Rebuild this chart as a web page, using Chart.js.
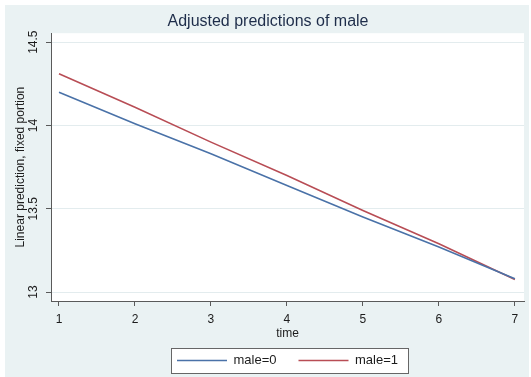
<!DOCTYPE html>
<html>
<head>
<meta charset="utf-8">
<script src="https://cdn.jsdelivr.net/npm/chart.js@4/dist/chart.umd.min.js"></script>
<style>
  html, body { margin: 0; padding: 0; background: #fff; }
  #wrap { width: 531px; height: 377px; }
</style>
</head>
<body>
<div id="wrap"><canvas id="c" width="531" height="377"></canvas></div>
<script>
// === DATA ===
const TIMES  = [1, 2, 3, 4, 5, 6, 7];
const MALE0  = [14.20, 14.01, 13.83, 13.64, 13.45, 13.27, 13.08];
const MALE1  = [14.31, 14.11, 13.90, 13.70, 13.49, 13.29, 13.075];
const Y_TICKS = [13, 13.5, 14, 14.5];
const X_TICKS = [1, 2, 3, 4, 5, 6, 7];
const SERIES_NAMES = ['male=0', 'male=1'];

// === STYLE ===
const BG    = '#eaf2f3';
const INK   = '#1c1c1c';
const TITLE = '#1e2d4a';
const AXIS  = '#5a5a5a';
const GRID  = '#e3ecee';
const BLUE  = '#4a72a8';
const RED   = '#b84d55';
const FONT  = '"Liberation Sans", Arial, sans-serif';

// фон в стиле Stata: светлая рамка + белая область графика + рамка легенды
const backdrop = {
  id: 'backdrop',
  beforeDraw(chart){
    const { ctx, chartArea: a, width, height } = chart;
    ctx.save();
    ctx.fillStyle = '#fff';
    ctx.fillRect(0, 0, width, height);
    ctx.fillStyle = BG;
    ctx.fillRect(5, 5, width - 7, height - 5);
    ctx.fillStyle = '#fff';
    ctx.fillRect(a.left, a.top, a.right - a.left, a.bottom - a.top);

    const boxes = chart.legend && chart.legend.legendHitBoxes;
    if (boxes && boxes.length){
      const l = boxes[0].left - 6;
      const r = boxes[boxes.length - 1].left + boxes[boxes.length - 1].width + 10;
      const cy = boxes[0].top + boxes[0].height / 2;
      ctx.fillStyle = '#fff';
      ctx.fillRect(l, cy - 12.5, r - l, 25);
      ctx.strokeStyle = '#666';
      ctx.lineWidth = 1;
      ctx.strokeRect(Math.round(l) + 0.5, Math.round(cy - 12.5) + 0.5, Math.round(r - l), 25);
    }
    ctx.restore();
  }
};

function mkLine(label, data, color){
  return {
    label,
    data: TIMES.map((t, i) => ({ x: t, y: data[i] })),
    borderColor: color,
    backgroundColor: color,
    borderWidth: 1.6,
    pointRadius: 0,
    tension: 0
  };
}

new Chart(document.getElementById('c').getContext('2d'), {
  type: 'line',
  data: {
    datasets: [
      mkLine(SERIES_NAMES[0], MALE0, BLUE),
      mkLine(SERIES_NAMES[1], MALE1, RED)
    ]
  },
  options: {
    responsive: false,
    animation: false,
    layout: { padding: { left: 12, right: 7, top: 0, bottom: 0 } },
    plugins: {
      tooltip: { enabled: false },
      title: {
        display: true,
        text: 'Adjusted predictions of male',
        color: TITLE,
        font: { family: FONT, size: 16, weight: 'normal' },
        padding: { top: 12, bottom: 2 }
      },
      legend: {
        position: 'bottom',
        fullSize: false,
        labels: {
          usePointStyle: true,
          pointStyle: 'line',
          pointStyleWidth: 50,
          padding: 22,
          color: INK,
          font: { family: FONT, size: 13 }
        }
      }
    },
    scales: {
      x: {
        type: 'linear',
        min: 0.895,
        max: 7.12,
        afterBuildTicks(s){ s.ticks = X_TICKS.map(v => ({ value: v })); },
        afterFit(s){ s.height = 31; },
        border: { display: true, color: AXIS, width: 1 },
        grid: { drawOnChartArea: false, drawTicks: true, tickLength: 5, color: AXIS },
        ticks: { color: INK, padding: 6, maxRotation: 0, font: { family: FONT, size: 12 } },
        title: {
          display: true, text: 'time', color: INK,
          font: { family: FONT, size: 12 },
          padding: { top: 0, bottom: -9 }
        }
      },
      y: {
        type: 'linear',
        min: 12.946,
        max: 14.554,
        afterBuildTicks(s){ s.ticks = Y_TICKS.map(v => ({ value: v })); },
        afterFit(s){ s.width = 39; },
        border: { display: true, color: AXIS, width: 1 },
        grid: { color: GRID, lineWidth: 1, tickColor: AXIS, tickLength: 5, drawTicks: true },
        ticks: {
          color: INK, padding: 1, minRotation: 90, maxRotation: 90,
          crossAlign: 'center',
          callback: v => String(v),
          font: { family: FONT, size: 12 }
        },
        title: {
          display: true, text: 'Linear prediction, fixed portion', color: INK,
          font: { family: FONT, size: 12 },
          padding: { top: 1, bottom: 0 }
        }
      }
    }
  },
  plugins: [backdrop]
});
</script>
</body>
</html>
